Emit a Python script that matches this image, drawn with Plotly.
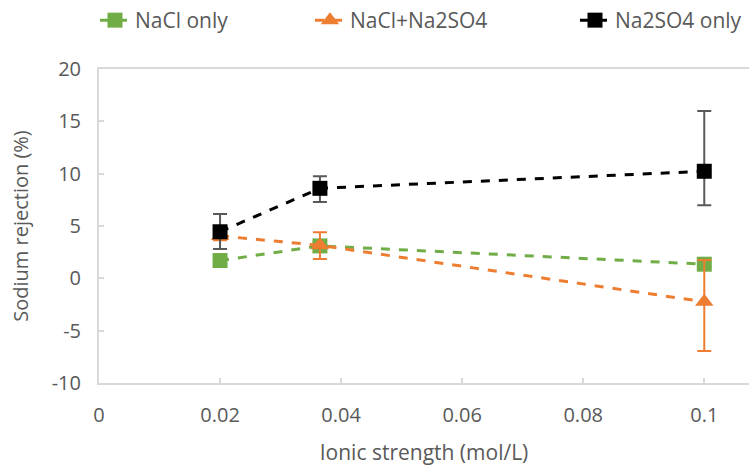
import plotly.graph_objects as go

x_vals = [0.02, 0.0365, 0.1]
nacl_only = [1.7, 3.1, 1.35]
nacl_only_err = [0.3, 0.3, 0.3]
mixed = [4.05, 3.15, -2.24]
mixed_err_plus = [0.4, 1.25, 4.0]
mixed_err_minus = [0.4, 1.3, 4.7]
na2so4_only = [4.45, 8.6, 10.23]
na2so4_err_plus = [1.7, 1.15, 5.75]
na2so4_err_minus = [1.65, 1.3, 3.25]

series_names = ["NaCl only", "NaCl+Na2SO4", "Na2SO4 only"]
colors = ["#70AD47", "#ED7D31", "#000000"]
err_colors = ["#70AD47", "#ED7D31", "#595959"]

x_ticks = [0, 0.02, 0.04, 0.06, 0.08, 0.1]
x_tick_text = ["0", "0.02", "0.04", "0.06", "0.08", "0.1"]
y_ticks = [-10, -5, 0, 5, 10, 15, 20]
y_tick_text = ["-10", "-5", "0", "5", "10", "15", "20"]

FONT = "Open Sans"
TXT = "#595959"

fig = go.Figure()
fig.add_trace(go.Scatter(
    x=x_vals, y=nacl_only, name=series_names[0], mode="lines+markers", legend="legend",
    line=dict(color=colors[0], width=3, dash="dash"),
    marker=dict(symbol="square", size=15, color=colors[0]),
    error_y=dict(type="data", array=nacl_only_err, color=err_colors[0], thickness=2, width=7),
))
fig.add_trace(go.Scatter(
    x=x_vals, y=mixed, name=series_names[1], mode="lines+markers", legend="legend2",
    line=dict(color=colors[1], width=3, dash="dash"),
    marker=dict(symbol="triangle-up", size=16, color=colors[1]),
    error_y=dict(type="data", array=mixed_err_plus, arrayminus=mixed_err_minus,
                 color=err_colors[1], thickness=2, width=7),
))
fig.add_trace(go.Scatter(
    x=x_vals, y=na2so4_only, name=series_names[2], mode="lines+markers", legend="legend3",
    line=dict(color=colors[2], width=3, dash="dash"),
    marker=dict(symbol="square", size=15, color=colors[2]),
    error_y=dict(type="data", array=na2so4_err_plus, arrayminus=na2so4_err_minus,
                 color=err_colors[2], thickness=2, width=7),
))

leg_common = dict(orientation="h", xref="paper", yref="container", y=1.0, yanchor="top",
                  xanchor="left", font=dict(size=21, color=TXT), bgcolor="rgba(0,0,0,0)")
fig.update_layout(
    width=749, height=470,
    margin=dict(l=99, r=0, t=69, b=87),
    paper_bgcolor="white", plot_bgcolor="white",
    font=dict(family=FONT, size=20, color=TXT),
    showlegend=True,
    legend=dict(x=(95 - 99) / 650, **leg_common),
    legend2=dict(x=(310 - 99) / 650, **leg_common),
    legend3=dict(x=(575 - 99) / 650, **leg_common),
)
fig.update_xaxes(
    range=[0, 0.10739], tickvals=x_ticks, ticktext=x_tick_text,
    tickfont=dict(size=20, color=TXT), ticklabelstandoff=13,
    showgrid=False, zeroline=False, showline=True, linecolor="#D9D9D9", linewidth=2,
    mirror=True, ticks="inside", ticklen=5, tickcolor="#D9D9D9", tickwidth=2,
    title=dict(text="Ionic strength (mol/L)", font=dict(size=21, color=TXT), standoff=18),
)
fig.update_yaxes(
    range=[-10, 20], tickvals=y_ticks, ticktext=y_tick_text,
    tickfont=dict(size=20, color=TXT), ticklabelstandoff=12,
    showgrid=False, zeroline=False, showline=True, linecolor="#D9D9D9", linewidth=2,
    ticks="inside", ticklen=5, tickcolor="#D9D9D9", tickwidth=2,
    title=dict(text="Sodium rejection (%)", font=dict(size=20, color=TXT), standoff=18),
)

fig.write_html("out.html")
